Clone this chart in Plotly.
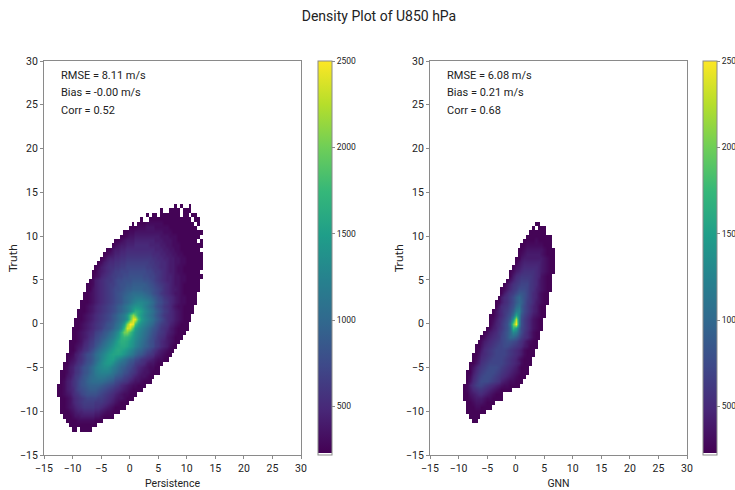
import plotly.graph_objects as go

# Counts are stored in units of 50 per 0.5 m/s cell; 0 = empty (white) cell.
COUNT_UNIT = 50
persistence_row_y = [-12 + 0.5 * i for i in range(52)]
persistence_row_x_start = [-10, -10.5, -11, -11.5, -12, -12, -12, -12, -12.5, -12.5, -12.5, -12, -12, -12, -11.5, -11.5,
    -11, -11, -10.5, -10.5, -10.5, -10, -10, -10, -9.5, -9.5, -9, -9, -8.5, -8.5, -8, -8, -7.5, -7.5, -7, -6.5, -6.5,
    -6, -5.5, -5, -4.5, -4, -3, -2.5, -1.5, -1, 0, 0.5, 2, 3, 5.5, 8]
persistence_counts = [
[5,5,0,5,5,5,5,0],
[5,5,5,5,5,5,5,5,5,5],
[5,5,5,5,6,6,6,6,6,6,5,5,5],
[5,5,5,6,7,7,8,8,8,8,8,7,7,6,5,5,5,5],
[5,5,5,6,7,8,9,9,10,10,10,10,9,9,8,7,6,6,5,5,5],
[5,5,6,7,8,9,10,11,12,12,12,12,11,11,10,9,8,7,6,5,5,5,5],
[5,5,6,7,9,10,11,12,13,13,13,13,12,12,12,11,10,9,8,7,6,5,5,5],
[5,5,6,7,9,10,11,12,13,14,14,14,14,13,13,12,11,10,9,8,7,7,6,5,5,5],
[5,5,6,7,8,10,11,12,14,15,16,16,16,16,15,14,13,12,11,10,9,8,7,6,6,5,5,5],
[5,5,6,8,9,10,12,14,15,16,17,18,18,18,17,16,15,14,13,12,11,10,9,8,7,6,5,5,5,5],
[5,5,6,8,9,11,12,14,16,17,18,19,19,19,19,18,17,16,15,14,13,12,10,9,8,7,6,6,5,5,5],
[5,6,8,9,11,12,14,16,17,19,20,21,21,21,21,20,19,18,17,15,14,13,12,11,9,8,7,7,6,5,5,5],
[5,5,7,8,10,12,13,15,17,18,20,21,22,23,23,23,22,21,20,18,17,16,14,13,12,10,9,8,7,7,6,5,5],
[5,5,6,8,9,11,12,14,16,17,19,21,23,24,25,25,25,24,22,21,19,18,16,15,13,12,11,9,8,7,7,6,5,5,5],
[5,6,8,9,11,12,14,16,17,19,21,23,25,26,27,27,26,24,23,21,19,18,16,15,13,12,10,9,8,7,6,6,5,5],
[5,5,7,8,9,11,12,14,16,17,19,21,24,26,28,29,29,27,25,23,21,20,18,16,15,13,12,11,10,8,7,7,6,5,5],
[5,6,7,8,10,11,13,15,16,18,20,22,25,27,29,30,30,28,26,24,22,20,18,17,15,14,12,11,10,9,8,7,6,6,5,5],
[5,5,6,8,9,11,13,15,16,18,20,22,24,26,28,30,31,31,31,30,28,26,24,22,20,18,17,15,13,12,11,9,8,7,6,5,5],
[5,5,6,8,9,11,12,14,16,18,20,22,24,26,28,30,31,32,31,30,28,26,24,22,20,19,17,15,14,12,11,9,8,7,6,5,5],
[5,5,6,7,8,10,11,13,14,16,18,20,22,24,26,28,30,31,32,32,31,29,27,25,23,21,19,18,16,15,13,12,10,9,8,6,5,5],
[5,5,5,6,7,9,10,12,13,15,16,18,20,22,24,26,28,31,33,33,32,30,28,26,24,22,20,18,16,15,13,12,10,9,8,7,6,5,5],
[5,5,6,7,8,9,11,12,14,15,17,18,20,22,24,26,29,33,35,34,32,29,27,25,23,21,19,17,15,14,12,11,10,8,7,6,5,5,5],
[5,5,6,7,8,9,10,11,13,14,15,17,18,20,22,24,27,33,40,41,36,31,28,26,24,22,20,18,16,15,13,12,11,9,8,7,6,5,5,5],
[5,5,5,6,7,8,9,10,11,12,13,15,16,17,19,21,23,27,35,47,46,37,30,27,25,23,21,19,17,16,14,12,11,10,8,7,6,5,5,5,5],
[5,5,6,7,8,9,10,11,12,13,14,16,17,18,20,22,25,30,42,50,48,36,30,27,25,23,21,19,17,15,13,12,11,9,8,7,6,5,5,5],
[5,5,5,6,7,8,9,10,11,12,13,14,15,17,18,20,22,24,28,38,48,48,36,30,27,25,23,21,19,17,15,13,11,10,9,8,7,6,5,5,5],
[5,5,6,7,8,9,10,11,12,13,14,15,17,18,20,22,24,28,36,42,38,32,29,26,24,22,20,18,16,14,12,11,10,9,8,7,6,5,5,5],
[5,5,5,6,7,8,9,10,11,12,13,14,15,16,18,19,21,23,26,30,33,32,30,27,25,23,21,19,17,15,13,12,10,9,8,7,6,5,5,5,5],
[5,5,6,7,8,9,10,11,12,13,14,15,16,18,19,21,23,25,27,28,28,27,25,23,21,19,17,15,14,12,11,10,8,7,6,6,5,5,5,5],
[5,5,5,6,7,8,9,10,11,12,13,14,15,16,17,19,20,22,24,25,26,26,25,24,22,20,18,16,15,13,12,10,9,8,7,6,6,5,5,5,5],
[5,5,6,7,8,9,10,11,12,13,14,15,16,17,19,20,21,22,23,23,23,22,21,20,18,17,15,14,12,11,10,9,8,7,6,6,5,5,5,5],
[5,5,6,7,8,9,10,11,12,13,14,15,16,17,18,19,20,21,21,21,21,20,19,18,16,15,14,12,11,10,9,8,7,7,6,5,5,5,5,5],
[5,5,7,8,9,10,11,12,13,14,15,15,16,17,18,18,19,19,19,19,18,18,17,16,15,14,13,11,10,9,8,8,7,6,5,5,5,5,5,5],
[5,5,6,8,9,10,11,12,13,13,14,15,16,16,17,17,18,18,18,18,18,17,16,15,14,13,12,11,10,9,8,7,7,6,5,5,5,5,5,5],
[5,6,8,9,10,11,12,12,13,14,15,15,16,16,16,17,17,17,17,16,16,15,14,13,12,11,10,9,9,8,7,7,6,6,5,5,5,5,5],
[5,6,7,9,10,11,12,13,13,14,14,15,15,16,16,16,16,16,15,15,14,14,13,12,11,10,9,9,8,7,7,6,6,5,5,5,5,5,5],
[5,5,7,8,9,10,11,12,13,13,14,14,14,15,15,15,15,15,15,14,14,13,12,12,11,10,9,8,8,7,6,6,5,5,5,5,5,5,0],
[5,6,8,9,10,11,11,12,12,13,13,14,14,14,14,14,14,14,13,13,12,12,11,10,10,9,8,8,7,6,6,5,5,5,5,5,5,5],
[5,6,8,9,10,10,11,11,12,12,13,13,13,13,13,13,13,13,12,12,11,11,10,10,9,8,8,7,7,6,6,5,5,5,5,5,5],
[5,6,8,9,9,10,10,11,11,12,12,12,12,12,12,12,12,12,11,11,10,10,9,9,8,8,7,7,6,6,5,5,5,5,5,5],
[5,6,7,8,9,9,10,10,11,11,11,11,11,11,11,11,11,10,10,10,9,9,8,8,7,7,6,6,5,5,5,5,5,5,5],
[5,5,7,8,8,9,9,10,10,10,10,10,10,10,10,10,10,9,9,9,8,8,7,7,6,6,5,5,5,5,5,5,5,0],
[5,6,7,8,8,9,9,9,10,10,10,10,10,9,9,9,9,8,8,7,7,6,6,6,5,5,5,5,5,5,5,5],
[5,5,6,7,8,8,8,9,9,9,9,9,9,9,8,8,8,7,7,7,6,6,5,5,5,5,5,5,5,0,5],
[5,5,6,7,7,8,8,8,8,8,8,8,8,8,7,7,7,6,6,6,5,5,5,5,5,5,5,5,0],
[5,5,6,6,7,7,7,7,7,7,7,7,7,7,6,6,6,5,5,5,5,5,5,5,5,5,5,5],
[5,5,5,6,6,6,7,7,7,6,6,6,6,6,5,5,5,5,5,5,5,5,5,5,0],
[5,0,5,5,5,6,6,6,6,6,6,5,5,5,5,5,5,5,5,5,5,5,0,5],
[5,0,0,5,5,5,5,5,5,5,5,5,5,5,5,5,5,5,0,5,5],
[5,0,5,5,0,5,5,5,5,5,5,5,0,5,5,0,5,5],
[5,0,0,5,5,5,5,0,5,5,5,0],
[5,0,5,0,0,5],
]

gnn_row_y = [-11 + 0.5 * i for i in range(46)]
gnn_row_x_start = [-7.5, -8, -8.5, -8.5, -8.5, -9, -9, -9, -9, -8.5, -8.5, -8.5, -8, -8, -7.5, -7.5, -7, -7, -6.5, -6,
    -5.5, -5, -4.5, -4.5, -4.5, -4, -3.5, -3.5, -3, -2.5, -2.5, -2, -1.5, -1, -1, -0.5, 0, 0, 0.5, 0.5, 1, 1.5, 2, 2.5, 3, 3.5]
gnn_counts = [
[5,5],
[5,5,5,5],
[5,5,5,5,5,5,5],
[5,5,5,6,6,5,5,5,5],
[5,5,6,7,7,7,6,5,5,5],
[5,5,6,7,8,8,8,7,6,6,5,5,5,5],
[5,5,7,8,9,10,10,9,8,7,6,5,5,5],
[5,6,8,10,11,12,12,11,10,9,8,7,6,5,5,5,5],
[5,6,9,11,13,14,14,13,12,11,10,9,8,7,6,6,5,5,5,5],
[5,7,10,12,14,15,15,15,14,13,12,11,9,8,7,6,6,5,5,5],
[5,6,9,11,13,14,15,15,15,14,13,12,11,10,9,8,7,6,5,5,5],
[5,5,8,10,12,13,14,15,15,15,14,13,12,11,10,9,8,7,6,5,5,5],
[5,7,9,11,12,13,14,15,15,15,14,13,12,11,10,9,8,6,5,5,5],
[5,5,7,9,11,12,13,14,14,14,14,14,13,12,11,10,9,8,6,5,5,5],
[5,6,8,10,11,12,13,14,14,14,14,13,12,11,10,9,7,6,5,5,5],
[5,5,7,9,10,11,12,13,14,14,14,14,13,12,11,10,9,8,6,5,5,5],
[5,6,8,10,11,12,13,14,14,14,14,13,12,11,10,9,8,6,5,5,5],
[5,5,7,9,10,11,12,13,14,14,15,15,14,13,12,11,10,8,7,5,5,5],
[5,6,8,9,10,11,12,13,14,15,16,16,15,14,12,11,9,7,6,5,5],
[5,6,8,9,10,11,12,14,15,17,20,20,18,15,13,11,10,8,6,5,5],
[5,6,8,9,10,12,13,15,17,20,26,24,18,15,12,10,8,6,5,5],
[5,6,8,9,11,12,14,16,20,34,30,20,15,13,11,9,7,6,5,5],
[5,7,9,10,12,14,16,22,39,50,24,16,13,11,9,7,6,5,5],
[5,6,8,10,11,13,15,18,28,45,24,16,13,11,9,7,6,5,5],
[5,5,7,9,10,12,14,16,21,31,24,17,14,12,10,8,7,6,5,5],
[5,7,9,10,12,13,15,18,24,25,19,15,13,11,9,8,6,5,5],
[5,8,10,11,12,14,16,20,22,18,15,13,11,9,8,6,5,5],
[5,6,8,10,11,13,15,18,20,19,16,13,12,10,8,7,6,5,5],
[5,8,10,11,13,15,18,20,18,16,14,12,10,9,7,6,5,5],
[5,8,10,12,13,15,17,17,16,14,12,10,9,7,6,5,5],
[5,6,8,10,12,13,15,15,15,14,12,11,9,8,7,6,5,5],
[5,7,9,11,12,13,14,14,14,12,11,10,8,7,6,5,5],
[5,7,9,11,12,13,13,13,12,11,10,8,7,6,5,5],
[5,8,10,11,12,12,12,12,11,10,9,7,6,5,5],
[5,6,8,9,10,11,11,11,11,10,9,8,7,6,5,5],
[5,7,8,9,10,10,10,10,10,9,8,7,6,5,5],
[5,7,8,9,9,9,9,9,9,8,7,6,5,5],
[5,5,7,8,8,8,8,8,8,8,7,6,5,5],
[5,6,7,8,8,8,8,8,7,6,5,5,5],
[5,5,6,7,7,7,7,7,7,6,5,5,5],
[5,5,6,6,6,6,6,6,5,5,5],
[5,5,5,5,6,5,5,5,5,5],
[5,5,5,5,5,5,5,5,5],
[5,5,5,5,5,5,0],
[5,0,5,5,5],
[5,5],
]

axis_ticks = [-15, -10, -5, 0, 5, 10, 15, 20, 25, 30]
colorbar_ticks = [500, 1000, 1500, 2000, 2500]
persistence_stats = ["RMSE = 8.11 m/s", "Bias = -0.00 m/s", "Corr = 0.52"]
gnn_stats = ["RMSE = 6.08 m/s", "Bias = 0.21 m/s", "Corr = 0.68"]

W, H = 735, 490
NARROW = "Roboto"
GREY = "#8a8a8a"
viridis = ["#440154", "#482878", "#3e4989", "#31688e", "#26828e", "#1f9e89", "#35b779", "#6ece58", "#b5de2b", "#fde725"]
ZMIN, UNDER, ZMAX = 219, 233, 2500
f0 = (UNDER - ZMIN) / (ZMAX - ZMIN)
scale = [[0, "#ffffff"], [f0, "#ffffff"]] + [[f0 + (1 - f0) * i / 9, c] for i, c in enumerate(viridis)]


def to_grid(row_y, row_x, rows):
    xs = [-15 + 0.5 * i for i in range(91)]
    ys = [-15 + 0.5 * i for i in range(91)]
    z = [[None] * len(xs) for _ in ys]
    for y, x0, vals in zip(row_y, row_x, rows):
        r = ys.index(y)
        c0 = xs.index(x0)
        for k, v in enumerate(vals):
            if v:
                z[r][c0 + k] = v * COUNT_UNIT
    return xs, ys, z


fig = go.Figure()
panels = [
    (persistence_row_y, persistence_row_x_start, persistence_counts, "x", "y", 318),
    (gnn_row_y, gnn_row_x_start, gnn_counts, "x2", "y2", 703),
]
for ry, rx, rows, xa, ya, cbx in panels:
    xs, ys, z = to_grid(ry, rx, rows)
    fig.add_trace(go.Heatmap(
        x=xs, y=ys, z=z, xaxis=xa, yaxis=ya, zmin=ZMIN, zmax=ZMAX, colorscale=scale, hoverongaps=False,
        zsmooth="best",
        colorbar=dict(
            x=cbx / W, xanchor="left", y=(H - 455) / H, yanchor="bottom", len=394, lenmode="pixels",
            thickness=14, thicknessmode="pixels", xpad=0, ypad=0, tickvals=colorbar_ticks,
            ticks="outside", ticklen=3, tickcolor=GREY, outlinecolor=GREY, outlinewidth=1,
            tickfont=dict(family=NARROW, size=8.5, color="#222"),
        ),
    ))

ax = dict(range=[-15, 30], tickvals=axis_ticks, ticks="outside", ticklen=3, tickcolor=GREY, showgrid=False,
          zeroline=False, showline=True, linecolor=GREY, linewidth=1, mirror=True,
          tickfont=dict(family=NARROW, size=10.5, color="#222"))
yd = [(H - 455) / H, (H - 61) / H]
fig.update_layout(
    width=W, height=H, margin=dict(l=0, r=0, t=0, b=0, autoexpand=False), paper_bgcolor="white", plot_bgcolor="white",
    xaxis=dict(ax, domain=[44 / W, 301 / W], anchor="y",
               title=dict(text="Persistence", standoff=7, font=dict(family=NARROW, size=10.5, color="#222"))),
    yaxis=dict(ax, domain=yd, anchor="x",
               title=dict(text="Truth", standoff=0, font=dict(family="DejaVu Sans", size=11, color="#222"))),
    xaxis2=dict(ax, domain=[430 / W, 687 / W], anchor="y2",
                title=dict(text="GNN", standoff=7, font=dict(family=NARROW, size=10.5, color="#222"))),
    yaxis2=dict(ax, domain=yd, anchor="x2",
                title=dict(text="Truth", standoff=0, font=dict(family="DejaVu Sans", size=11, color="#222"))),
    showlegend=False,
    title=dict(text="Density Plot of U850 hPa", x=379 / W, xanchor="center", y=1 - 16 / H, yanchor="middle",
               font=dict(family=NARROW, size=14, color="#222")),
)
for stats, px in ((persistence_stats, 59), (gnn_stats, 445)):
    for text, py in zip(stats, (75, 92, 110)):
        fig.add_annotation(text=text, xref="paper", yref="paper", x=px / W, y=1 - py / H, xanchor="left",
                           yanchor="middle", showarrow=False, font=dict(family=NARROW, size=11, color="#222"))

fig.write_html("out.html", post_script="document.body.style.margin='0';", config={"displayModeBar": False})
